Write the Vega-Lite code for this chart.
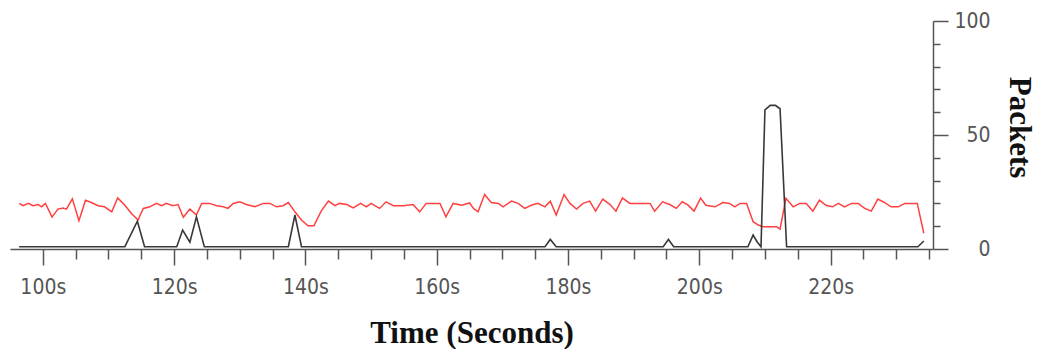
{
  "$schema": "https://vega.github.io/schema/vega-lite/v6.json",
  "width": 923,
  "height": 228,
  "autosize": {"type": "none"},
  "padding": {"left": 10, "top": 21, "right": 106, "bottom": 100},
  "background": "white",
  "config": {"view": {"stroke": null}},
  "data": {
    "values": [
      {"s": "red", "t": 96.4, "v": 20}, {"s": "red", "t": 97.0, "v": 19}, {"s": "red", "t": 97.8, "v": 20}, {"s": "red", "t": 98.5, "v": 19},
      {"s": "red", "t": 99.3, "v": 19.5}, {"s": "red", "t": 99.8, "v": 18.5}, {"s": "red", "t": 100.4, "v": 20}, {"s": "red", "t": 101.4, "v": 14},
      {"s": "red", "t": 102.3, "v": 17.5}, {"s": "red", "t": 103.1, "v": 18}, {"s": "red", "t": 103.6, "v": 17.5}, {"s": "red", "t": 104.5, "v": 22},
      {"s": "red", "t": 105.5, "v": 12.4}, {"s": "red", "t": 106.5, "v": 21.4}, {"s": "red", "t": 107.4, "v": 20.4}, {"s": "red", "t": 108.4, "v": 19},
      {"s": "red", "t": 109.4, "v": 18.5}, {"s": "red", "t": 110.5, "v": 16.3}, {"s": "red", "t": 111.4, "v": 22.4}, {"s": "red", "t": 112.5, "v": 19.2},
      {"s": "red", "t": 113.5, "v": 15.6}, {"s": "red", "t": 114.5, "v": 12.7}, {"s": "red", "t": 115.3, "v": 17.8}, {"s": "red", "t": 116.3, "v": 18.5},
      {"s": "red", "t": 117.3, "v": 20}, {"s": "red", "t": 118.1, "v": 19}, {"s": "red", "t": 118.8, "v": 20}, {"s": "red", "t": 119.8, "v": 19},
      {"s": "red", "t": 120.6, "v": 19.5}, {"s": "red", "t": 121.4, "v": 13.9}, {"s": "red", "t": 122.4, "v": 17.5}, {"s": "red", "t": 123.4, "v": 14.9},
      {"s": "red", "t": 124.2, "v": 20}, {"s": "red", "t": 125.4, "v": 20}, {"s": "red", "t": 126.5, "v": 19}, {"s": "red", "t": 127.5, "v": 18.5},
      {"s": "red", "t": 128.2, "v": 17.8}, {"s": "red", "t": 129.0, "v": 20}, {"s": "red", "t": 130.0, "v": 20.7}, {"s": "red", "t": 131.0, "v": 19.5},
      {"s": "red", "t": 132.3, "v": 18.5}, {"s": "red", "t": 133.6, "v": 20}, {"s": "red", "t": 134.6, "v": 20}, {"s": "red", "t": 135.6, "v": 18.5},
      {"s": "red", "t": 136.6, "v": 19}, {"s": "red", "t": 137.4, "v": 20.4}, {"s": "red", "t": 138.4, "v": 16.3}, {"s": "red", "t": 139.4, "v": 12.7},
      {"s": "red", "t": 140.4, "v": 10.2}, {"s": "red", "t": 141.3, "v": 10.2}, {"s": "red", "t": 142.4, "v": 16.6}, {"s": "red", "t": 143.5, "v": 21},
      {"s": "red", "t": 144.5, "v": 19}, {"s": "red", "t": 145.2, "v": 20}, {"s": "red", "t": 146.3, "v": 19.5}, {"s": "red", "t": 147.3, "v": 18},
      {"s": "red", "t": 148.4, "v": 20}, {"s": "red", "t": 149.3, "v": 18.5}, {"s": "red", "t": 150.0, "v": 20}, {"s": "red", "t": 151.3, "v": 17.8},
      {"s": "red", "t": 152.3, "v": 20.7}, {"s": "red", "t": 153.4, "v": 19}, {"s": "red", "t": 154.9, "v": 19}, {"s": "red", "t": 156.4, "v": 19.5},
      {"s": "red", "t": 157.4, "v": 16.3}, {"s": "red", "t": 158.4, "v": 20}, {"s": "red", "t": 160.5, "v": 20}, {"s": "red", "t": 161.4, "v": 14.1},
      {"s": "red", "t": 162.5, "v": 20}, {"s": "red", "t": 163.8, "v": 19.2}, {"s": "red", "t": 165.0, "v": 20.2}, {"s": "red", "t": 165.6, "v": 17.8},
      {"s": "red", "t": 166.3, "v": 16.3}, {"s": "red", "t": 167.3, "v": 23.9}, {"s": "red", "t": 168.3, "v": 20.4}, {"s": "red", "t": 169.4, "v": 20},
      {"s": "red", "t": 170.1, "v": 18.5}, {"s": "red", "t": 171.4, "v": 21}, {"s": "red", "t": 172.4, "v": 20}, {"s": "red", "t": 173.4, "v": 17.8},
      {"s": "red", "t": 174.4, "v": 19.2}, {"s": "red", "t": 175.4, "v": 20}, {"s": "red", "t": 176.5, "v": 18.5}, {"s": "red", "t": 177.3, "v": 21},
      {"s": "red", "t": 178.2, "v": 14.9}, {"s": "red", "t": 179.4, "v": 23.9}, {"s": "red", "t": 180.3, "v": 20}, {"s": "red", "t": 181.3, "v": 17.5},
      {"s": "red", "t": 182.3, "v": 20}, {"s": "red", "t": 183.3, "v": 21}, {"s": "red", "t": 184.2, "v": 16.6}, {"s": "red", "t": 185.3, "v": 21.9},
      {"s": "red", "t": 186.4, "v": 19.5}, {"s": "red", "t": 187.3, "v": 16.6}, {"s": "red", "t": 188.3, "v": 22.4}, {"s": "red", "t": 189.4, "v": 20},
      {"s": "red", "t": 192.5, "v": 20}, {"s": "red", "t": 193.2, "v": 16.6}, {"s": "red", "t": 194.4, "v": 20.7}, {"s": "red", "t": 195.5, "v": 19.5},
      {"s": "red", "t": 196.5, "v": 17.8}, {"s": "red", "t": 197.4, "v": 20.7}, {"s": "red", "t": 198.3, "v": 19.2}, {"s": "red", "t": 199.2, "v": 16.6},
      {"s": "red", "t": 200.2, "v": 22.3}, {"s": "red", "t": 201.0, "v": 19.2}, {"s": "red", "t": 202.4, "v": 18.5}, {"s": "red", "t": 203.6, "v": 20.4},
      {"s": "red", "t": 204.6, "v": 20}, {"s": "red", "t": 205.4, "v": 18.5}, {"s": "red", "t": 206.2, "v": 20}, {"s": "red", "t": 207.2, "v": 20},
      {"s": "red", "t": 208.2, "v": 12}, {"s": "red", "t": 209.0, "v": 10.5}, {"s": "red", "t": 209.7, "v": 9.8}, {"s": "red", "t": 211.8, "v": 9.8},
      {"s": "red", "t": 212.3, "v": 8.7}, {"s": "red", "t": 213.2, "v": 22.2}, {"s": "red", "t": 214.3, "v": 18.5}, {"s": "red", "t": 215.3, "v": 20},
      {"s": "red", "t": 216.3, "v": 20}, {"s": "red", "t": 217.3, "v": 16.6}, {"s": "red", "t": 218.3, "v": 21.4}, {"s": "red", "t": 219.3, "v": 19.2},
      {"s": "red", "t": 220.3, "v": 18.5}, {"s": "red", "t": 221.2, "v": 20}, {"s": "red", "t": 222.1, "v": 18.5}, {"s": "red", "t": 223.2, "v": 20},
      {"s": "red", "t": 224.2, "v": 20}, {"s": "red", "t": 225.2, "v": 17.8}, {"s": "red", "t": 226.2, "v": 16.6}, {"s": "red", "t": 227.2, "v": 21.9},
      {"s": "red", "t": 228.2, "v": 20.4}, {"s": "red", "t": 229.2, "v": 18.5}, {"s": "red", "t": 230.3, "v": 18.5}, {"s": "red", "t": 231.3, "v": 20},
      {"s": "red", "t": 233.2, "v": 20}, {"s": "red", "t": 234.2, "v": 6.9},
      {"s": "black", "t": 96.4, "v": 1}, {"s": "black", "t": 112.5, "v": 1}, {"s": "black", "t": 114.4, "v": 12.2}, {"s": "black", "t": 115.5, "v": 1},
      {"s": "black", "t": 120.4, "v": 1}, {"s": "black", "t": 121.3, "v": 8.3}, {"s": "black", "t": 122.4, "v": 3}, {"s": "black", "t": 123.4, "v": 14.1},
      {"s": "black", "t": 124.6, "v": 1}, {"s": "black", "t": 137.4, "v": 1}, {"s": "black", "t": 138.4, "v": 14.9}, {"s": "black", "t": 139.4, "v": 1},
      {"s": "black", "t": 176.5, "v": 1}, {"s": "black", "t": 177.3, "v": 4.2}, {"s": "black", "t": 178.2, "v": 1}, {"s": "black", "t": 194.5, "v": 1},
      {"s": "black", "t": 195.3, "v": 4.2}, {"s": "black", "t": 196.1, "v": 1}, {"s": "black", "t": 207.4, "v": 1}, {"s": "black", "t": 208.2, "v": 6.1},
      {"s": "black", "t": 208.8, "v": 3.2}, {"s": "black", "t": 209.4, "v": 1}, {"s": "black", "t": 210.0, "v": 61}, {"s": "black", "t": 210.8, "v": 63},
      {"s": "black", "t": 211.6, "v": 63}, {"s": "black", "t": 212.3, "v": 61.5}, {"s": "black", "t": 213.3, "v": 1}, {"s": "black", "t": 233.3, "v": 1},
      {"s": "black", "t": 234.2, "v": 3.5}
    ]
  },
  "encoding": {
    "x": {
      "field": "t",
      "type": "quantitative",
      "scale": {"domain": [95, 235.6], "nice": false, "zero": false},
      "axis": {
        "title": "Time (Seconds)",
        "values": [100, 105, 110, 115, 120, 125, 130, 135, 140, 145, 150, 155, 160, 165, 170, 175, 180, 185, 190, 195, 200, 205, 210, 215, 220, 225, 230, 235],
        "labelExpr": "datum.value % 20 === 0 ? datum.value + 's' : ''",
        "grid": false,
        "domainColor": "#555555",
        "domainWidth": 1.5,
        "tickColor": "#555555",
        "tickWidth": 1.5,
        "tickSize": {"condition": {"test": "datum.value % 20 === 0", "value": 16}, "value": 10},
        "labelFont": "DejaVu Sans Condensed",
        "labelFontSize": 21,
        "labelColor": "#555555",
        "labelBaseline": "alphabetic",
        "labelPadding": 28,
        "labelOverlap": false,
        "labelFlush": false,
        "titleFont": "Liberation Serif",
        "titleFontSize": 31,
        "titleFontWeight": "bold",
        "titleColor": "#111111",
        "titleY": 93,
        "titleBaseline": "alphabetic"
      }
    },
    "y": {
      "field": "v",
      "type": "quantitative",
      "scale": {"domain": [0, 100], "nice": false},
      "axis": {
        "orient": "right",
        "title": "Packets",
        "values": [0, 10, 20, 30, 40, 50, 60, 70, 80, 90, 100],
        "labelExpr": "datum.value % 50 === 0 ? datum.label : ''",
        "grid": false,
        "domainColor": "#555555",
        "domainWidth": 1.5,
        "tickColor": "#555555",
        "tickWidth": 1.5,
        "tickSize": {"condition": {"test": "datum.value % 50 === 0", "value": 15}, "value": 7},
        "labelFont": "DejaVu Sans Condensed",
        "labelFontSize": 21,
        "labelColor": "#555555",
        "labelAlign": "right",
        "labelBaseline": "middle",
        "labelPadding": 42,
        "labelOverlap": false,
        "labelFlush": false,
        "titleFont": "Liberation Serif",
        "titleFontSize": 31,
        "titleFontWeight": "bold",
        "titleColor": "#111111",
        "titleAngle": 90,
        "titleX": 85,
        "titleY": 106,
        "titleAlign": "center",
        "titleBaseline": "middle"
      }
    }
  },
  "layer": [
    {
      "transform": [{"filter": "datum.s === 'red'"}],
      "mark": {"type": "line", "color": "#ff4040", "strokeWidth": 1.5}
    },
    {
      "transform": [{"filter": "datum.s === 'black'"}],
      "mark": {"type": "line", "color": "#383838", "strokeWidth": 1.6}
    }
  ]
}
